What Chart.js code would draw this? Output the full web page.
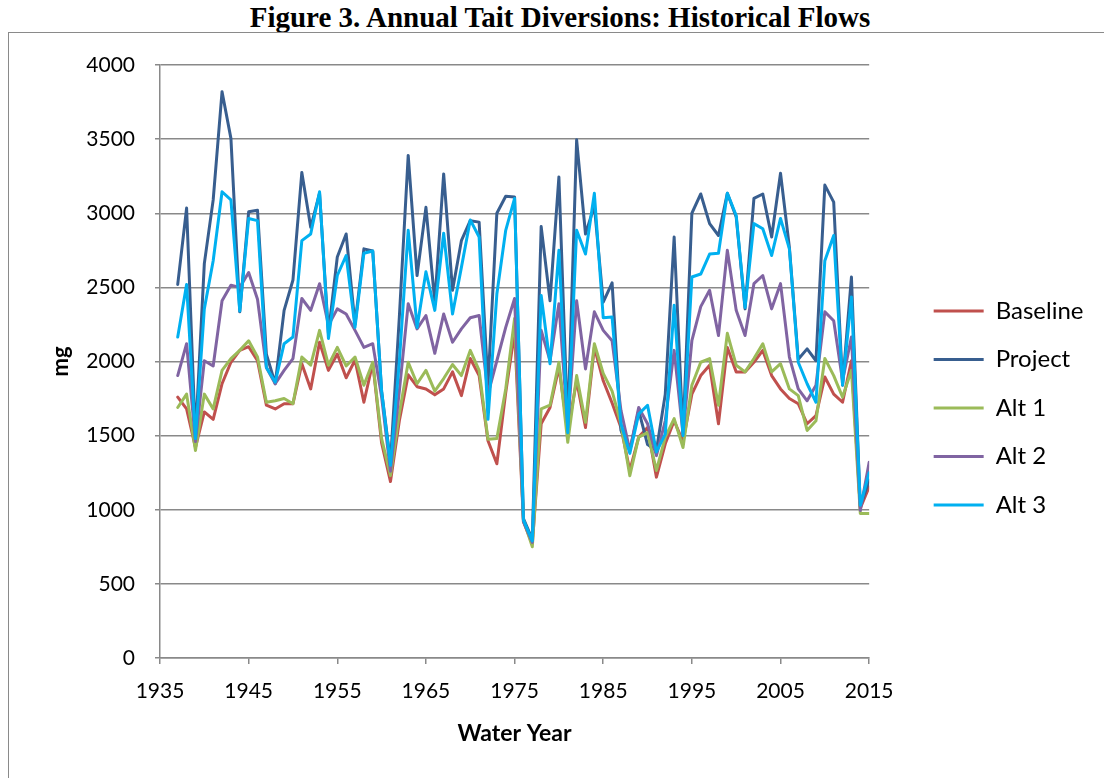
<!DOCTYPE html>
<html>
<head>
<meta charset="utf-8">
<script src="https://cdn.jsdelivr.net/npm/chart.js@4.4.1/dist/chart.umd.min.js"></script>
<style>
  html, body { margin: 0; padding: 0; background: #fff; overflow: hidden; }
  #title {
    position: absolute; left: 0; top: 0; width: 1120px; text-align: center;
    font-family: "Liberation Serif", "Times New Roman", serif; font-weight: bold; font-size: 29px;
    line-height: 34px;
  }
  #frame {
    position: absolute; left: 8px; top: 32px; width: 1200px; height: 900px;
    border: 1.5px solid #8a8a8a;
  }
  #taitChart { position: absolute; left: 0; top: 0; }
</style>
</head>
<body>
<div id="title">Figure 3. Annual Tait Diversions: Historical Flows</div>
<div id="frame"></div>
<canvas id="taitChart" width="1104" height="778"></canvas>
<script>
// water years 1937 - 2015
const years = [];
for (let y = 1937; y <= 2015; y++) years.push(y);

const baseline = [1760, 1680, 1420, 1660, 1610, 1850, 1995, 2075, 2100, 2005,
  1705, 1680, 1715, 1715, 1985, 1815, 2130, 1940, 2050, 1890,
  2010, 1725, 1990, 1450, 1190, 1600, 1910, 1830, 1815, 1775,
  1815, 1930, 1770, 2020, 1905, 1465, 1310, 1790, 2200, 920,
  770, 1580, 1690, 1960, 1535, 1870, 1555, 2095, 1870, 1720,
  1555, 1265, 1490, 1555, 1220, 1445, 1600, 1460, 1780, 1905,
  1975, 1580, 2095, 1930, 1930, 1995, 2075, 1905, 1815, 1750,
  1715, 1580, 1635, 1895, 1780, 1725, 2005, 1010, 1155];

const project = [2520, 3035, 1490, 2660, 3090, 3820, 3505, 2335, 3010, 3020,
  2050, 1850, 2345, 2550, 3275, 2905, 3135, 2190, 2705, 2860,
  2250, 2760, 2745, 1800, 1320, 2300, 3390, 2580, 3040, 2400,
  3265, 2480, 2815, 2950, 2940, 1840, 3000, 3115, 3110, 940,
  800, 2910, 2410, 3245, 1550, 3495, 2860, 3050, 2400, 2530,
  1535, 1400, 1670, 1440, 1400, 1780, 2840, 1510, 3000, 3130,
  2930, 2850, 3135, 2975, 2355, 3100, 3130, 2840, 3270, 2770,
  2015, 2085, 2005, 3190, 3075, 1840, 2570, 1020, 1200];

const alt1 = [1690, 1780, 1400, 1780, 1680, 1940, 2020, 2075, 2140, 2030,
  1725, 1735, 1750, 1715, 2030, 1975, 2210, 1975, 2095, 1970,
  2030, 1840, 1995, 1480, 1230, 1650, 1995, 1850, 1940, 1800,
  1885, 1980, 1905, 2075, 1940, 1475, 1480, 1815, 2290, 930,
  750, 1680, 1705, 1995, 1455, 1905, 1590, 2120, 1920, 1800,
  1580, 1230, 1490, 1520, 1265, 1490, 1615, 1420, 1840, 1995,
  2020, 1705, 2190, 1975, 1930, 2020, 2120, 1930, 1985, 1815,
  1770, 1535, 1600, 2020, 1905, 1760, 1940, 975, 975];

const alt2 = [1905, 2120, 1460, 2005, 1970, 2410, 2515, 2500, 2600, 2420,
  1960, 1850, 1940, 2020, 2425, 2345, 2525, 2245, 2355, 2320,
  2210, 2095, 2120, 1760, 1260, 1800, 2390, 2220, 2310, 2055,
  2320, 2130, 2220, 2295, 2310, 1780, 2005, 2230, 2425, 920,
  780, 2210, 2005, 2390, 1555, 2410, 1950, 2335, 2210, 2140,
  1670, 1400, 1690, 1580, 1365, 1600, 2075, 1510, 2140, 2370,
  2480, 2175, 2750, 2345, 2175, 2525, 2580, 2355, 2525, 2030,
  1815, 1735, 1840, 2335, 2275, 1870, 2165, 995, 1320];

const alt3 = [2165, 2520, 1480, 2355, 2680, 3145, 3090, 2340, 2965, 2950,
  1960, 1860, 2120, 2165, 2815, 2860, 3145, 2155, 2580, 2715,
  2230, 2730, 2745, 1800, 1300, 2000, 2885, 2230, 2605, 2345,
  2865, 2320, 2635, 2955, 2840, 1610, 2455, 2885, 3100, 930,
  790, 2445, 1985, 2750, 1520, 2885, 2725, 3135, 2295, 2300,
  1580, 1380, 1645, 1705, 1390, 1510, 2380, 1500, 2570, 2590,
  2725, 2730, 3135, 2985, 2365, 2930, 2895, 2715, 2965, 2760,
  1995, 1850, 1725, 2680, 2850, 1840, 2435, 1030, 1250];

const seriesNames = ['Baseline', 'Project', 'Alt 1', 'Alt 2', 'Alt 3'];
const seriesColors = ['#C0504D', '#385E8F', '#9BBB59', '#8064A2', '#00B0F0'];
const seriesValues = [baseline, project, alt1, alt2, alt3];

const yTicks = [0, 500, 1000, 1500, 2000, 2500, 3000, 3500, 4000];
const xLabels = [1935, 1945, 1955, 1965, 1975, 1985, 1995, 2005, 2015];

const axisGray = '#898989';
const fontFamily = 'Lato, "Open Sans", sans-serif';

const datasets = seriesNames.map((name, i) => ({
  label: name,
  data: years.map((yr, j) => ({ x: yr, y: seriesValues[i][j] })),
  borderColor: seriesColors[i],
  backgroundColor: seriesColors[i],
  borderWidth: 3,
  pointRadius: 0,
  tension: 0,
  borderJoinStyle: 'round',
  borderCapStyle: 'round',
  order: seriesNames.length - i // later series on top, like Excel
}));

new Chart(document.getElementById('taitChart'), {
  type: 'line',
  data: { datasets },
  options: {
    responsive: false,
    animation: false,
    layout: { padding: { top: 65, bottom: 27, left: 0, right: 13 } },
    plugins: {
      title: { display: false },
      tooltip: { enabled: false },
      legend: {
        position: 'right',
        align: 'center',
        labels: {
          usePointStyle: true,
          pointStyle: 'line',
          pointStyleWidth: 50,
          padding: 24.5,
          color: '#000',
          font: { family: fontFamily, size: 24 },
          sort: (a, b) => a.datasetIndex - b.datasetIndex
        }
      }
    },
    scales: {
      x: {
        type: 'linear',
        min: 1935,
        max: 2015,
        afterFit: s => { s.height = 93; },
        afterBuildTicks: s => { s.ticks = xLabels.map(v => ({ value: v })); },
        ticks: {
          autoSkip: false,
          maxRotation: 0,
          padding: 15,
          color: '#000',
          font: { family: fontFamily, size: 21 },
          callback: v => String(v)
        },
        grid: { drawOnChartArea: false, tickLength: 6, color: axisGray, lineWidth: 1.5 },
        border: { color: axisGray, width: 1.5 },
        title: {
          display: true,
          text: 'Water Year',
          color: '#000',
          font: { family: fontFamily, size: 23, weight: 'bold' },
          padding: { top: 0, bottom: 4 }
        }
      },
      y: {
        min: 0,
        max: 4000,
        afterFit: s => { s.width = 160; },
        afterBuildTicks: s => { s.ticks = yTicks.map(v => ({ value: v })); },
        ticks: {
          padding: 20,
          color: '#000',
          font: { family: fontFamily, size: 21 },
          callback: v => String(v)
        },
        grid: { color: axisGray, lineWidth: 1.5, tickLength: 5 },
        border: { color: axisGray, width: 1.5 },
        title: {
          display: true,
          text: 'mg',
          color: '#000',
          font: { family: fontFamily, size: 22, weight: 'bold' },
          padding: { top: 48, bottom: 0 }
        }
      },
      // spacer between the plot and the legend
      gap: {
        position: 'right',
        display: true,
        afterFit: s => { s.width = 40; },
        ticks: { display: false },
        grid: { display: false },
        border: { display: false }
      }
    }
  }
});
</script>
</body>
</html>
